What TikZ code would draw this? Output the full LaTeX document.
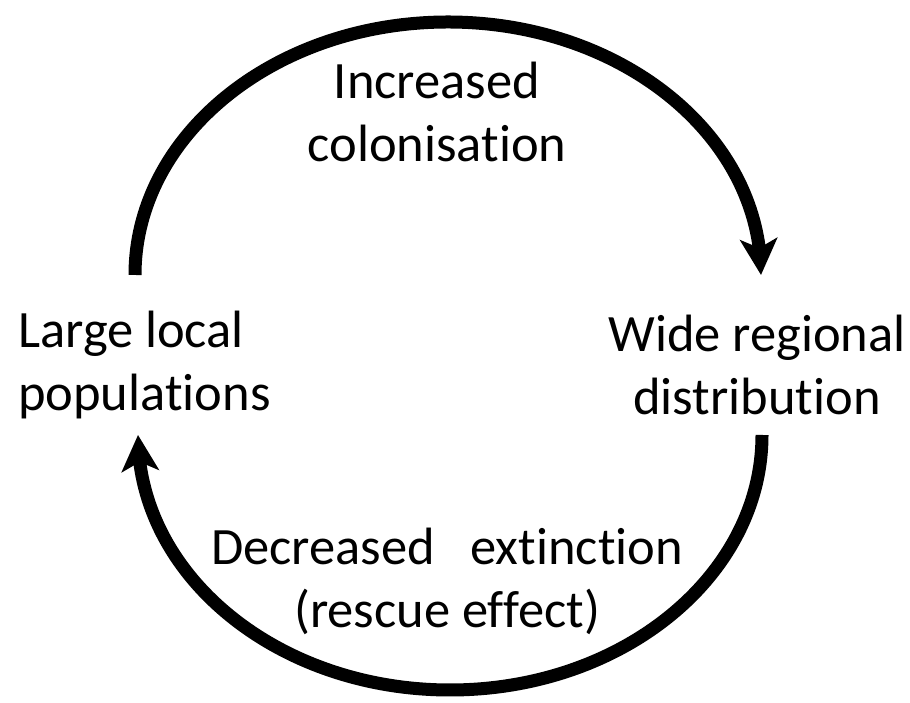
\documentclass[tikz,border=0pt]{standalone}
\usepackage{fontspec}
\setmainfont[Ligatures={NoCommon,NoRare}]{Carlito}
\usetikzlibrary{arrows.meta,bending}
\begin{document}
\begin{tikzpicture}[x=1pt,y=1pt,
  lbl/.style={align=center,inner sep=0pt,font=\fontsize{52.5}{63}\selectfont},
  cyc/.style={line width=13pt,-{Stealth[length=36pt,width=37pt,inset=9pt]}}]
\useasboundingbox (0,0) rectangle (910,703);
\node[lbl] (inc) at (437,591) {Increased\\colonisation};
\node[lbl,align=left,anchor=west] (large) at (18,338) {Large local\\populations};
\node[lbl] (wide) at (757,338) {Wide regional\\distribution};
\node[lbl] (dec) at (447,122) {Decreased~~~extinction\\(rescue effect)};
\coordinate (tstart) at (135,428);
\coordinate (bstart) at (762,268);
\draw[cyc] (tstart) arc[start angle=180,end angle=0,x radius=313,y radius=253];
\draw[cyc] (bstart) arc[start angle=0,end angle=-180,x radius=312,y radius=255];
\end{tikzpicture}
\end{document}
